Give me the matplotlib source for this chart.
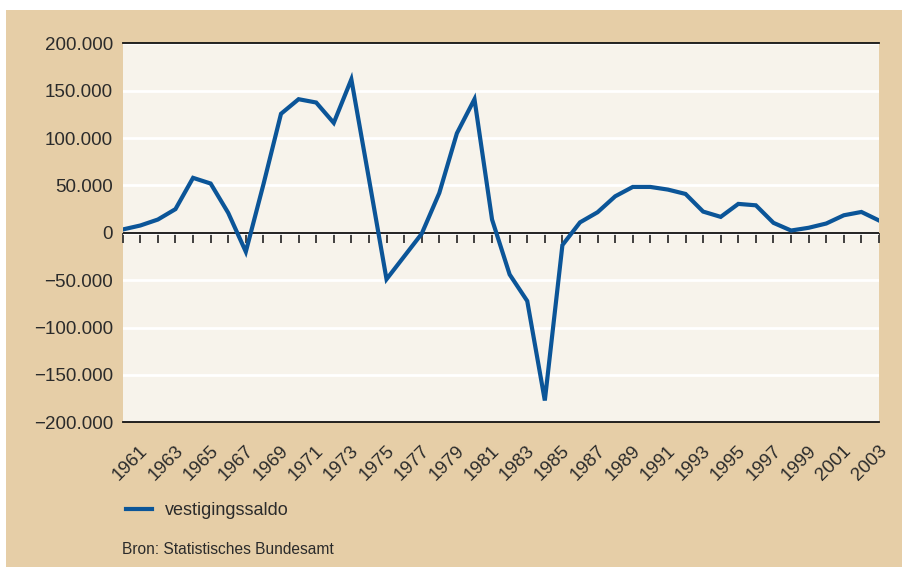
import numpy as np
import matplotlib.pyplot as plt
from matplotlib.patches import Rectangle
from matplotlib.ticker import FuncFormatter
from matplotlib.transforms import ScaledTranslation

# data: net migration (vestigingssaldo)
years = np.arange(1960, 2004)
saldo = [3500, 7700, 14000, 25000, 58000, 52000, 21000, -20000, 51000, 125600,
         141000, 137500, 116000, 162000, 57000, -49000, -25000, -1000, 42000, 105000,
         141000, 14000, -44000, -72000, -177000, -13000, 11000, 21700, 38500, 48400,
         48400, 45600, 41000, 22400, 16800, 30500, 29000, 10500, 2400, 5300,
         9800, 18500, 22000, 13000]
label_years = years[1::2]
yticks = [-200000, -150000, -100000, -50000, 0, 50000, 100000, 150000, 200000]

tan = '#e6cea7'
plotbg = '#f7f3eb'
blue = '#0b5598'
textcol = '#2b2b2b'

fig = plt.figure(figsize=(9.03, 5.67), dpi=100, facecolor='white')
fig.patches.append(Rectangle((6/903, 0), 1, 1 - 10/567, transform=fig.transFigure,
                             facecolor=tan, edgecolor='none', zorder=-10))

ax = fig.add_axes([122.7/903, 1 - 422.3/567, (879 - 122.7)/903, (422.3 - 43.3)/567])
ax.set_facecolor(plotbg)
ax.plot(years, saldo, color=blue, lw=3.0, label='vestigingssaldo', zorder=5,
        solid_joinstyle='miter')

ax.set_xlim(1960, 2003)
ax.set_ylim(-200000, 200000)
ax.set_yticks(yticks)
ax.yaxis.set_major_formatter(FuncFormatter(
    lambda v, p: ('\u2212' if v < 0 else '') + f'{abs(int(v)):,}'.replace(',', '.')))
ax.tick_params(axis='y', length=0, pad=7, labelsize=13.5, labelcolor=textcol)
for lab in ax.get_yticklabels():
    lab.set_family(['Liberation Sans', 'DejaVu Sans'])

ax.grid(axis='y', color='white', lw=2, zorder=0)
ax.set_axisbelow(True)
for s in ['left', 'right']:
    ax.spines[s].set_visible(False)
for s in ['top', 'bottom']:
    ax.spines[s].set_color('#111111')
    ax.spines[s].set_linewidth(1.3)

# labels at bottom, no marks
ax.set_xticks(label_years)
ax.set_xticklabels([str(y) for y in label_years])
ax.tick_params(axis='x', length=0, pad=19, labelcolor=textcol)
offset = ScaledTranslation(5/100, 0, fig.dpi_scale_trans)
for lab in ax.get_xticklabels():
    lab.set_rotation(45)
    lab.set_ha('right')
    lab.set_va('center')
    lab.set_rotation_mode('anchor')
    lab.set_family(['Liberation Sans', 'DejaVu Sans'])
    lab.set_fontsize(13.5)
    lab.set_transform(lab.get_transform() + offset)

# zero line with tick marks pointing down
ax.axhline(0, color='#111111', lw=1.3, zorder=3)
sec = ax.secondary_xaxis(0.5)
sec.set_xticks(years)
sec.set_xticklabels([])
sec.tick_params(axis='x', direction='in', length=7, width=1.3, color='#333333')
for s in sec.spines.values():
    s.set_visible(False)

leg = fig.legend(loc='upper left', bbox_to_anchor=(110/903, 1 - 486/567), frameon=False,
                 handlelength=1.4, handletextpad=0.75, prop={'family': 'Liberation Sans', 'size': 13})
for t in leg.get_texts():
    t.set_color(textcol)

fig.text(122/903, 1 - 550/567, 'Bron: Statistisches Bundesamt', ha='left', va='center',
         fontsize=11.2, color=textcol, family='Liberation Sans')

fig.savefig('out.png', dpi=100, facecolor=fig.get_facecolor())
